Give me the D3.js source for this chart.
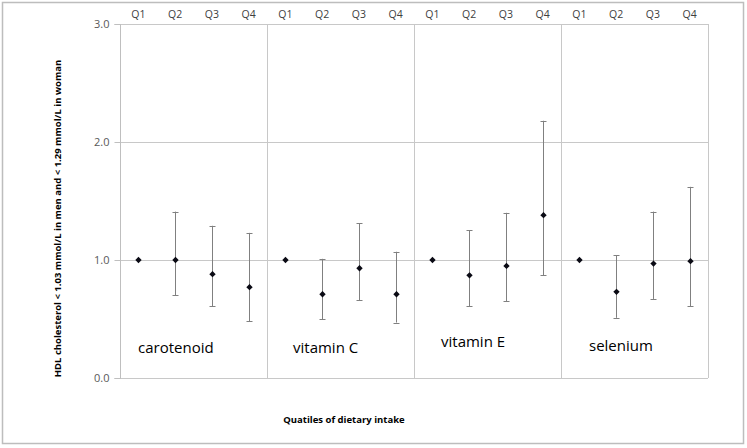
<!DOCTYPE html>
<html><head><meta charset="utf-8">
<script src="https://cdn.jsdelivr.net/npm/d3@7"></script>
<style>body{margin:0;background:#fff}svg{display:block}</style>
</head><body>
<svg id="c" width="747" height="448"></svg>
<script>
const groups = ["carotenoid","vitamin C","vitamin E","selenium"];
const quartiles = ["Q1","Q2","Q3","Q4"];
const estimate = [
  [1.00,1.00,0.88,0.77],
  [1.00,0.71,0.93,0.71],
  [1.00,0.87,0.95,1.38],
  [1.00,0.73,0.97,0.99]
];
const upper = [
  [null,1.41,1.29,1.23],
  [null,1.01,1.31,1.07],
  [null,1.25,1.40,2.18],
  [null,1.04,1.41,1.62]
];
const lower = [
  [null,0.70,0.61,0.48],
  [null,0.50,0.66,0.47],
  [null,0.61,0.65,0.87],
  [null,0.51,0.67,0.61]
];
const yTicks = [0,1,2,3];
const yTitle = "HDL cholesterol < 1.03 mmol/L in men and < 1.29 mmol/L in woman";
const xTitle = "Quatiles of dietary intake";

const svg = d3.select("#c");
const L=120, R=708, T=24, B=378;
svg.append("rect").attr("x",2.5).attr("y",2.5).attr("width",741).attr("height",441)
  .attr("fill","#fff").attr("stroke","#bdbdbd").attr("stroke-width",1.5);

const keys = [];
groups.forEach((g,gi)=>quartiles.forEach((q,qi)=>keys.push(gi+"-"+qi)));
const x = d3.scaleBand().domain(keys).range([L,R]);
const gx = d3.scaleBand().domain(groups).range([L,R]);
const y = d3.scaleLinear().domain([0,3]).range([B,T]);

// gridlines
svg.append("g").selectAll("line").data(yTicks.filter(t=>t>0)).join("line")
  .attr("x1",L).attr("x2",R).attr("y1",d=>Math.round(y(d))+0.5).attr("y2",d=>Math.round(y(d))+0.5)
  .attr("stroke","#c8c8c8");
// group dividers
svg.append("g").selectAll("line").data(groups.slice(1)).join("line")
  .attr("x1",d=>Math.round(gx(d))+0.5).attr("x2",d=>Math.round(gx(d))+0.5).attr("y1",T).attr("y2",B)
  .attr("stroke","#c8c8c8");
// right border
svg.append("line").attr("x1",R+0.5).attr("x2",R+0.5).attr("y1",T).attr("y2",B).attr("stroke","#c8c8c8");
svg.append("line").attr("x1",L).attr("x2",R).attr("y1",B+0.5).attr("y2",B+0.5).attr("stroke","#c8c8c8");

// y axis
const ya = svg.append("g").attr("transform",`translate(${L+0.5},0)`)
  .call(d3.axisLeft(y).tickValues(yTicks).tickFormat(d3.format(".1f")).tickSize(6).tickPadding(5));
ya.select(".domain").attr("stroke","#bfbfbf").attr("d",`M-6,${T+0.5}H0V${B+0.5}H-6`);
ya.selectAll(".tick line").attr("stroke","#bfbfbf");
ya.selectAll(".tick text").attr("fill","#595959").style("font-family","'Open Sans',sans-serif").style("font-size","11px");

// top quartile labels
svg.append("g").selectAll("text").data(keys).join("text")
  .attr("x",d=>x(d)+x.bandwidth()/2).attr("y",18).attr("text-anchor","middle")
  .attr("fill","#404040").style("font-family","'Open Sans',sans-serif").style("font-size","10.5px")
  .text(d=>quartiles[+d.split("-")[1]]);

// error bars & points
const pts = [];
groups.forEach((g,gi)=>quartiles.forEach((q,qi)=>pts.push({k:gi+"-"+qi,v:estimate[gi][qi],hi:upper[gi][qi],lo:lower[gi][qi]})));
const cx = d=>Math.round(x(d.k)+x.bandwidth()/2)+0.5;
const eb = svg.append("g").attr("stroke","#808080").attr("stroke-width",1);
const withErr = pts.filter(d=>d.hi!=null);
eb.selectAll("line.v").data(withErr).join("line").attr("class","v")
  .attr("x1",cx).attr("x2",cx).attr("y1",d=>y(d.hi)).attr("y2",d=>y(d.lo));
eb.selectAll("line.h").data(withErr).join("line").attr("class","h")
  .attr("x1",d=>cx(d)-3).attr("x2",d=>cx(d)+3).attr("y1",d=>Math.round(y(d.hi))+0.5).attr("y2",d=>Math.round(y(d.hi))+0.5);
eb.selectAll("line.l").data(withErr).join("line").attr("class","l")
  .attr("x1",d=>cx(d)-3).attr("x2",d=>cx(d)+3).attr("y1",d=>Math.round(y(d.lo))+0.5).attr("y2",d=>Math.round(y(d.lo))+0.5);
svg.append("g").selectAll("path").data(pts).join("path")
  .attr("transform",d=>`translate(${cx(d)},${y(d.v)})`)
  .attr("d",d3.symbol(d3.symbolSquare,20)).attr("fill","#0a0a14")
  .attr("transform",d=>`translate(${cx(d)},${y(d.v)}) rotate(45)`);

// group labels
const labOff = [{dx:18,y:353},{dx:26,y:353},{dx:27,y:347},{dx:28,y:351}];
svg.append("g").selectAll("text").data(groups).join("text")
  .attr("x",(d,i)=>gx(d)+labOff[i].dx).attr("y",(d,i)=>labOff[i].y)
  .attr("fill","#000").style("font-family","'Open Sans',sans-serif").style("font-size","15px")
  .text(d=>d);

// titles
svg.append("text").attr("transform",`translate(61,${(65+372)/2}) rotate(-90)`).attr("text-anchor","middle")
  .style("font-family","'Open Sans',sans-serif").style("font-size","9.5px").style("font-weight","bold").attr("fill","#000")
  .text(yTitle);
svg.append("text").attr("x",344).attr("y",423).attr("text-anchor","middle")
  .style("font-family","'Open Sans',sans-serif").style("font-size","9.5px").style("font-weight","bold").attr("fill","#000")
  .text(xTitle);
</script>
</body></html>
